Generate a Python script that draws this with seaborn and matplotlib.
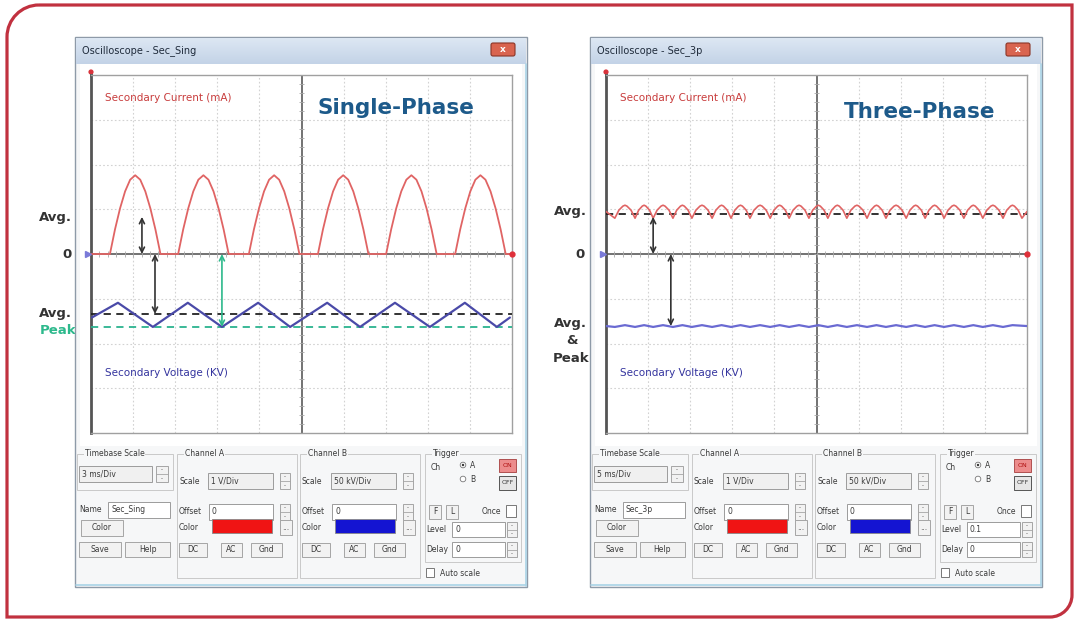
import numpy as np
import pandas as pd
import matplotlib.pyplot as plt
import seaborn as sns
from matplotlib.patches import Rectangle, FancyBboxPatch, PathPatch, Circle
from matplotlib.path import Path
from matplotlib.colors import LinearSegmentedColormap

sns.set_style("white")
plt.rcParams['font.family'] = ['DejaVu Sans']

W, H = 1078, 619

# ---- values read off the two scope screens (x: divisions 0..10, y: divisions -4..4)
# single-phase: half-wave current pulses
sp_hump_start = [0.45, 2.07, 3.75, 5.39, 7.01, 8.65]
sp_hump_width = 1.20
hump_frac = [0.0, 0.1, 0.2, 0.3, 0.4, 0.5, 0.6, 0.7, 0.8, 0.9, 1.0]
hump_level = [0.0, 0.55, 1.02, 1.40, 1.66, 1.76, 1.66, 1.40, 1.02, 0.55, 0.0]
# single-phase secondary voltage, turning points
sp_volt_t = [0.02, 0.64, 1.47, 2.30, 3.11, 3.97, 4.73, 5.61, 6.39, 7.22, 8.05, 8.88, 9.64, 9.95]
sp_volt_v = [-1.42, -1.09, -1.63, -1.09, -1.63, -1.09, -1.63, -1.09, -1.63, -1.09, -1.63, -1.09, -1.63, -1.42]
sp_curr_avg = 0.83
sp_volt_avg = -1.34
sp_volt_peak = -1.63

# three-phase: ripple current, cusp positions
tp_cusps = [0.21, 0.69, 1.12, 1.59, 2.04, 2.52, 2.97, 3.42, 3.90, 4.35, 4.82, 5.27,
            5.72, 6.20, 6.65, 7.13, 7.58, 8.03, 8.50, 8.95, 9.43, 9.88]
arch_frac = [0.0, 0.2, 0.4, 0.5, 0.6, 0.8]
arch_level = [0.80, 0.98, 1.07, 1.09, 1.07, 0.98]
tp_curr_avg = 0.89
tp_volt_level = -1.61
tp_volt_ripple = 0.02

# ---- build the traces
xs, ys = [0.0], [0.0]
for s in sp_hump_start:
    for f, v in zip(hump_frac, hump_level):
        xs.append(s + f * sp_hump_width)
        ys.append(v)
xs.append(10.0); ys.append(0.0)
sp_curr = pd.DataFrame({'t': xs, 'v': ys})
sp_volt = pd.DataFrame({'t': sp_volt_t, 'v': sp_volt_v})

xs, ys = [0.0], [0.95]
for a, b in zip(tp_cusps[:-1], tp_cusps[1:]):
    for f, v in zip(arch_frac, arch_level):
        xs.append(a + f * (b - a))
        ys.append(v)
xs += [tp_cusps[-1], 10.0]; ys += [arch_level[0], 0.95]
tp_curr = pd.DataFrame({'t': xs, 'v': ys})

xs, ys = [0.0], [tp_volt_level]
for a, b in zip(tp_cusps[:-1], tp_cusps[1:]):
    xs += [a, (a + b) / 2]
    ys += [tp_volt_level - tp_volt_ripple, tp_volt_level + tp_volt_ripple]
xs += [10.0]; ys += [tp_volt_level]
tp_volt = pd.DataFrame({'t': xs, 'v': ys})

fig = plt.figure(figsize=(W / 100, H / 100), dpi=100)
canvas = fig.add_axes([0, 0, 1, 1])
canvas.axis('off')

# outer frame, rounded top-left and bottom-right
x0, y0, x1, y1 = 7, 5, 1072, 617
r1, r2, k = 32, 22, 0.552
verts = [(x0 + r1, y0), (x1, y0), (x1, y1 - r2),
         (x1, y1 - r2 + k * r2), (x1 - r2 + k * r2, y1), (x1 - r2, y1),
         (x0, y1), (x0, y0 + r1),
         (x0, y0 + r1 - k * r1), (x0 + r1 - k * r1, y0), (x0 + r1, y0)]
codes = [Path.MOVETO, Path.LINETO, Path.LINETO, Path.CURVE4, Path.CURVE4, Path.CURVE4,
         Path.LINETO, Path.LINETO, Path.CURVE4, Path.CURVE4, Path.CURVE4]
canvas.add_patch(PathPatch(Path(verts, codes), fc='white', ec='#c1313f', lw=2.3, zorder=0))

title_cmap = LinearSegmentedColormap.from_list('tb', ['#dde7f3', '#c3d3e7'])


def box(xa, ya, xb, yb, fc='white', ec='#a0a0a0', lw=0.7, z=3):
    canvas.add_patch(Rectangle((xa, ya), xb - xa, yb - ya, fc=fc, ec=ec, lw=lw, zorder=z))


def label(x, y, s, size=5.5, color='#3a3a3a', ha='left', z=5, **kw):
    canvas.text(x, y, s, fontsize=size, color=color, ha=ha, va='center', zorder=z, **kw)


def field(xa, ya, xb, yb, s, fc='white'):
    box(xa, ya, xb, yb, fc=fc, ec='#9c9c9c')
    label(xa + 3, (ya + yb) / 2, s)


def button(xa, ya, xb, yb, s):
    box(xa, ya, xb, yb, fc='#f2f2f2', ec='#a5a5a5')
    label((xa + xb) / 2, (ya + yb) / 2, s, ha='center')


def spinner(xa, ya, xb, yb):
    box(xa, ya, xb, yb, fc='#f2f2f2', ec='#a5a5a5')
    canvas.plot([xa, xb], [(ya + yb) / 2] * 2, color='#a5a5a5', lw=0.6, zorder=4)
    label((xa + xb) / 2, ya + 3.5, '-', size=4, ha='center')
    label((xa + xb) / 2, yb - 3.5, '-', size=4, ha='center')


def group(xa, ya, xb, yb, s):
    box(xa, ya, xb, yb, fc='none', ec='#c9c9c9', lw=0.7)
    canvas.text(xa + 8, ya, s, fontsize=5.5, color='#3a3a3a', va='center', zorder=5,
                bbox=dict(fc='#f6f7f8', ec='none', pad=0.5))


def draw_window(ox, title, name, timebase, level):
    box(ox + 75, 37, ox + 527, 587, fc='#f6f7f8', ec='#8e9aa8', lw=1.0, z=1)
    canvas.imshow(np.linspace(0, 1, 40).reshape(-1, 1), extent=(ox + 76, ox + 526, 64, 38),
                  cmap=title_cmap, aspect='auto', zorder=2)
    canvas.text(ox + 82, 51, title, fontsize=7, color='#1f2b3b', va='center', zorder=3)
    canvas.add_patch(FancyBboxPatch((ox + 491, 43), 24, 13,
                                    boxstyle='round,pad=0,rounding_size=2',
                                    fc='#d9644f', ec='#8a3526', lw=0.8, zorder=3))
    label(ox + 503, 49.5, 'x', size=6.5, color='white', ha='center', weight='bold')
    box(ox + 80, 64, ox + 522, 446, fc='white', ec='none', z=1.5)
    canvas.plot([ox + 526, ox + 526], [64, 586], color='#a9d3e6', lw=1.2, zorder=3)
    canvas.plot([ox + 76, ox + 526], [585, 585], color='#a9d3e6', lw=1.2, zorder=3)
    # cursor marker above the screen
    canvas.plot([ox + 91, ox + 91], [72, 76], color='#555555', lw=2, zorder=3)
    canvas.add_patch(Circle((ox + 91, 72), 2.6, fc='#d8343c', ec='none', zorder=4))

    # control panel
    group(ox + 77, 454, ox + 173, 490, 'Timebase Scale')
    field(ox + 79, 466, ox + 152, 482, timebase, fc='#f0f0f0')
    spinner(ox + 156, 466, ox + 168, 482)
    label(ox + 79, 510, 'Name')
    field(ox + 108, 502, ox + 170, 518, name)
    button(ox + 81, 520, ox + 123, 536, 'Color')
    button(ox + 79, 542, ox + 121, 557, 'Save')
    button(ox + 125, 542, ox + 170, 557, 'Help')
    for gx, chan, scale, col in [(ox + 177, 'Channel A', '1 V/Div', '#f01414'),
                                 (ox + 300, 'Channel B', '50 kV/Div', '#1414d2')]:
        group(gx, 454, gx + 120, 578, chan)
        label(gx + 2, 481, 'Scale')
        field(gx + 31, 473, gx + 96, 489, scale, fc='#f0f0f0')
        spinner(gx + 103, 473, gx + 113, 489)
        label(gx + 2, 512, 'Offset')
        field(gx + 32, 504, gx + 96, 520, '0')
        spinner(gx + 103, 504, gx + 113, 520)
        label(gx + 2, 527, 'Color')
        box(gx + 35, 519, gx + 95, 533, fc=col, ec='#888888', lw=0.6)
        button(gx + 103, 520, gx + 115, 535, '...')
        button(gx + 2, 543, gx + 30, 557, 'DC')
        button(gx + 44, 543, gx + 65, 557, 'AC')
        button(gx + 74, 543, gx + 105, 557, 'Gnd')

    group(ox + 425, 454, ox + 521, 562, 'Trigger')
    label(ox + 431, 468, 'Ch')
    canvas.add_patch(Circle((ox + 463, 465), 2.8, fc='white', ec='#777777', lw=0.6, zorder=4))
    canvas.add_patch(Circle((ox + 463, 465), 1.2, fc='#333333', ec='none', zorder=5))
    canvas.add_patch(Circle((ox + 463, 479), 2.8, fc='white', ec='#777777', lw=0.6, zorder=4))
    label(ox + 470, 466, 'A')
    label(ox + 470, 480, 'B')
    box(ox + 499, 459, ox + 516, 472, fc='#ec8c8c', ec='#b05050')
    label(ox + 507.5, 465.5, 'ON', size=4.5, color='#b01010', ha='center')
    box(ox + 499, 476, ox + 516, 490, fc='#e6e6e6', ec='#555555')
    label(ox + 507.5, 483, 'OFF', size=4.5, ha='center')
    button(ox + 429, 505, ox + 441, 519, 'F')
    button(ox + 446, 505, ox + 458, 519, 'L')
    label(ox + 482, 512, 'Once')
    box(ox + 506, 505, ox + 516, 517, fc='white', ec='#777777')
    label(ox + 426, 530, 'Level')
    field(ox + 452, 522, ox + 505, 537, level)
    spinner(ox + 507, 522, ox + 517, 537)
    label(ox + 426, 550, 'Delay')
    field(ox + 452, 542, ox + 505, 557, '0')
    spinner(ox + 507, 542, ox + 517, 557)
    box(ox + 426, 568, ox + 434, 577, fc='white', ec='#777777')
    label(ox + 440, 574, 'Auto scale')


def draw_screen(ax):
    ax.set_xlim(0, 10)
    ax.set_ylim(-4, 4)
    ax.set_xticks([])
    ax.set_yticks([])
    ax.set_facecolor('white')
    for i in range(1, 10):
        if i != 5:
            ax.axvline(i, color='#d2d2d2', lw=0.8, ls=(0, (1.5, 2)), zorder=0)
    for j in range(-3, 4):
        if j != 0:
            ax.axhline(j, color='#d2d2d2', lw=0.8, ls=(0, (1.5, 2)), zorder=0)
    ax.axvline(5, color='#5a5a5a', lw=1.2, zorder=1)
    ax.axhline(0, color='#5a5a5a', lw=1.2, zorder=1)
    ax.vlines(np.arange(0.2, 10, 0.2), -0.06, 0.06, color='#a8a8a8', lw=0.6, zorder=1)
    ax.hlines(np.arange(-3.8, 4, 0.2), 4.95, 5.05, color='#a8a8a8', lw=0.6, zorder=1)
    for side in ['top', 'right', 'bottom']:
        ax.spines[side].set_color('#a0a0a0')
        ax.spines[side].set_linewidth(1.0)
    ax.spines['left'].set_color('#555555')
    ax.spines['left'].set_linewidth(2.0)
    ax.plot(10, 0, 'o', color='#e0303a', ms=3.5, clip_on=False, zorder=5)
    ax.plot(-0.08, 0, '>', color='#7a7ad8', ms=4, clip_on=False, zorder=5)
    ax.text(0.33, 3.49, 'Secondary Current (mA)', fontsize=7.5, color='#c83c3c', va='center')
    ax.text(0.33, -2.66, 'Secondary Voltage (KV)', fontsize=7.5, color='#34349e', va='center')


def arrow(ax, x, ya, yb, color='#333333'):
    ax.annotate('', xy=(x, yb), xytext=(x, ya),
                arrowprops=dict(arrowstyle='<->', color=color, lw=1.2, mutation_scale=9,
                                shrinkA=0, shrinkB=0), zorder=6)


draw_window(0, 'Oscilloscope - Sec_Sing', 'Sec_Sing', '3 ms/Div', '0')
draw_window(515, 'Oscilloscope - Sec_3p', 'Sec_3p', '5 ms/Div', '0.1')

# labels left of the screens
bold = dict(size=9.5, color='#333333', ha='right', weight='bold', z=0.5)
label(72, 217, 'Avg.', **bold)
label(72, 254, '0', **bold)
label(72, 313, 'Avg.', **bold)
label(76, 331, 'Peak', size=9.5, color='#2db98c', ha='right', weight='bold', z=0.5)
label(587, 212, 'Avg.', **bold)
label(585, 254, '0', **bold)
label(587, 323, 'Avg.', **bold)
label(572, 341, '&', size=9.5, color='#333333', ha='center', weight='bold', z=0.5)
label(589, 358, 'Peak', **bold)

canvas.set_xlim(0, W)
canvas.set_ylim(H, 0)

# single-phase screen
ax1 = fig.add_axes([91 / W, 1 - 433 / H, 421 / W, 358 / H])
draw_screen(ax1)
ax1.axhline(sp_volt_avg, color='#222222', lw=1.3, dashes=(4, 3), zorder=3)
ax1.axhline(sp_volt_peak, color='#2bb38f', lw=1.3, dashes=(4, 3), zorder=3)
sns.lineplot(data=sp_curr, x='t', y='v', ax=ax1, color='#e06464', linewidth=1.3,
             estimator=None, sort=False, legend=False, zorder=4)
sns.lineplot(data=sp_volt, x='t', y='v', ax=ax1, color='#4a4aa8', linewidth=1.6,
             estimator=None, sort=False, legend=False, zorder=4)
arrow(ax1, 1.21, 0, sp_curr_avg)
arrow(ax1, 1.52, 0, sp_volt_avg)
arrow(ax1, 3.11, 0, sp_volt_peak, color='#2db98c')
ax1.text(7.24, 3.26, 'Single-Phase', fontsize=15.5, weight='bold', color='#1d5a8a',
         ha='center', va='center')
ax1.set_xlabel('')
ax1.set_ylabel('')

# three-phase screen
ax2 = fig.add_axes([606 / W, 1 - 433 / H, 421 / W, 358 / H])
draw_screen(ax2)
ax2.axhline(tp_curr_avg, color='#222222', lw=1.3, dashes=(4, 3), zorder=3)
sns.lineplot(data=tp_curr, x='t', y='v', ax=ax2, color='#e06464', linewidth=1.2,
             estimator=None, sort=False, legend=False, zorder=4)
sns.lineplot(data=tp_volt, x='t', y='v', ax=ax2, color='#6a6ad2', linewidth=1.6,
             estimator=None, sort=False, legend=False, zorder=4)
arrow(ax2, 1.12, 0, tp_curr_avg - 0.06)
arrow(ax2, 1.54, 0, tp_volt_level)
ax2.text(7.46, 3.17, 'Three-Phase', fontsize=15.5, weight='bold', color='#1d5a8a',
         ha='center', va='center')
ax2.set_xlabel('')
ax2.set_ylabel('')

fig.savefig('out.png', dpi=100)
